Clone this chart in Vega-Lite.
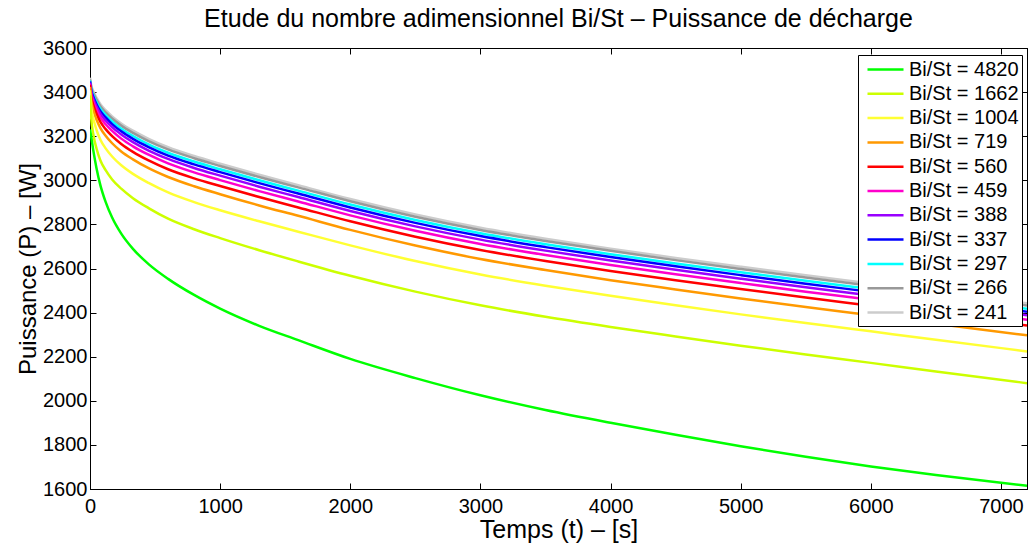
{
  "$schema": "https://vega.github.io/schema/vega-lite/v6.json",
  "width": 937,
  "height": 441,
  "autosize": "none",
  "padding": {"left": 90, "top": 48, "right": 2, "bottom": 59},
  "background": "white",
  "config": {
    "font": "Liberation Sans",
    "view": {"stroke": "black", "strokeWidth": 1}
  },
  "title": {"text": "Etude du nombre adimensionnel Bi/St – Puissance de décharge", "fontSize": 25, "fontWeight": "normal", "color": "black", "offset": 6, "anchor": "middle"},
  "datasets": {
    "curves": [
      {"s":"Bi/St = 241","t":0,"P":3465},{"s":"Bi/St = 241","t":10,"P":3430},{"s":"Bi/St = 241","t":25,"P":3405},{"s":"Bi/St = 241","t":50,"P":3375},{"s":"Bi/St = 241","t":80,"P":3345},{"s":"Bi/St = 241","t":120,"P":3318},{"s":"Bi/St = 241","t":170,"P":3290},{"s":"Bi/St = 241","t":240,"P":3258},{"s":"Bi/St = 241","t":330,"P":3225},{"s":"Bi/St = 241","t":450,"P":3188},{"s":"Bi/St = 241","t":600,"P":3150},{"s":"Bi/St = 241","t":800,"P":3110},{"s":"Bi/St = 241","t":1000,"P":3075},{"s":"Bi/St = 241","t":1300,"P":3025},{"s":"Bi/St = 241","t":1600,"P":2978},{"s":"Bi/St = 241","t":2000,"P":2915},{"s":"Bi/St = 241","t":2500,"P":2845},{"s":"Bi/St = 241","t":3000,"P":2785},{"s":"Bi/St = 241","t":3500,"P":2735},{"s":"Bi/St = 241","t":4000,"P":2690},{"s":"Bi/St = 241","t":4500,"P":2648},{"s":"Bi/St = 241","t":5000,"P":2608},{"s":"Bi/St = 241","t":5500,"P":2569},{"s":"Bi/St = 241","t":6000,"P":2532},{"s":"Bi/St = 241","t":6500,"P":2494},{"s":"Bi/St = 241","t":7200,"P":2442},
      {"s":"Bi/St = 266","t":0,"P":3458},{"s":"Bi/St = 266","t":10,"P":3421},{"s":"Bi/St = 266","t":25,"P":3396},{"s":"Bi/St = 266","t":50,"P":3366},{"s":"Bi/St = 266","t":80,"P":3336},{"s":"Bi/St = 266","t":120,"P":3308},{"s":"Bi/St = 266","t":170,"P":3280},{"s":"Bi/St = 266","t":240,"P":3248},{"s":"Bi/St = 266","t":330,"P":3215},{"s":"Bi/St = 266","t":450,"P":3178},{"s":"Bi/St = 266","t":600,"P":3140},{"s":"Bi/St = 266","t":800,"P":3100},{"s":"Bi/St = 266","t":1000,"P":3065},{"s":"Bi/St = 266","t":1300,"P":3015},{"s":"Bi/St = 266","t":1600,"P":2968},{"s":"Bi/St = 266","t":2000,"P":2905},{"s":"Bi/St = 266","t":2500,"P":2835},{"s":"Bi/St = 266","t":3000,"P":2775},{"s":"Bi/St = 266","t":3500,"P":2725},{"s":"Bi/St = 266","t":4000,"P":2680},{"s":"Bi/St = 266","t":4500,"P":2638},{"s":"Bi/St = 266","t":5000,"P":2598},{"s":"Bi/St = 266","t":5500,"P":2559},{"s":"Bi/St = 266","t":6000,"P":2522},{"s":"Bi/St = 266","t":6500,"P":2484},{"s":"Bi/St = 266","t":7200,"P":2432},
      {"s":"Bi/St = 297","t":0,"P":3453},{"s":"Bi/St = 297","t":10,"P":3414},{"s":"Bi/St = 297","t":25,"P":3387},{"s":"Bi/St = 297","t":50,"P":3355},{"s":"Bi/St = 297","t":80,"P":3324},{"s":"Bi/St = 297","t":120,"P":3296},{"s":"Bi/St = 297","t":170,"P":3267},{"s":"Bi/St = 297","t":240,"P":3234},{"s":"Bi/St = 297","t":330,"P":3201},{"s":"Bi/St = 297","t":450,"P":3163},{"s":"Bi/St = 297","t":600,"P":3125},{"s":"Bi/St = 297","t":800,"P":3085},{"s":"Bi/St = 297","t":1000,"P":3050},{"s":"Bi/St = 297","t":1300,"P":3000},{"s":"Bi/St = 297","t":1600,"P":2953},{"s":"Bi/St = 297","t":2000,"P":2890},{"s":"Bi/St = 297","t":2500,"P":2820},{"s":"Bi/St = 297","t":3000,"P":2760},{"s":"Bi/St = 297","t":3500,"P":2710},{"s":"Bi/St = 297","t":4000,"P":2665},{"s":"Bi/St = 297","t":4500,"P":2623},{"s":"Bi/St = 297","t":5000,"P":2583},{"s":"Bi/St = 297","t":5500,"P":2544},{"s":"Bi/St = 297","t":6000,"P":2507},{"s":"Bi/St = 297","t":6500,"P":2469},{"s":"Bi/St = 297","t":7200,"P":2417},
      {"s":"Bi/St = 337","t":0,"P":3448},{"s":"Bi/St = 337","t":10,"P":3407},{"s":"Bi/St = 337","t":25,"P":3379},{"s":"Bi/St = 337","t":50,"P":3345},{"s":"Bi/St = 337","t":80,"P":3313},{"s":"Bi/St = 337","t":120,"P":3285},{"s":"Bi/St = 337","t":170,"P":3255},{"s":"Bi/St = 337","t":240,"P":3222},{"s":"Bi/St = 337","t":330,"P":3188},{"s":"Bi/St = 337","t":450,"P":3151},{"s":"Bi/St = 337","t":600,"P":3112},{"s":"Bi/St = 337","t":800,"P":3072},{"s":"Bi/St = 337","t":1000,"P":3037},{"s":"Bi/St = 337","t":1300,"P":2987},{"s":"Bi/St = 337","t":1600,"P":2940},{"s":"Bi/St = 337","t":2000,"P":2877},{"s":"Bi/St = 337","t":2500,"P":2807},{"s":"Bi/St = 337","t":3000,"P":2747},{"s":"Bi/St = 337","t":3500,"P":2697},{"s":"Bi/St = 337","t":4000,"P":2652},{"s":"Bi/St = 337","t":4500,"P":2610},{"s":"Bi/St = 337","t":5000,"P":2570},{"s":"Bi/St = 337","t":5500,"P":2531},{"s":"Bi/St = 337","t":6000,"P":2494},{"s":"Bi/St = 337","t":6500,"P":2456},{"s":"Bi/St = 337","t":7200,"P":2404},
      {"s":"Bi/St = 388","t":0,"P":3443},{"s":"Bi/St = 388","t":10,"P":3398},{"s":"Bi/St = 388","t":25,"P":3369},{"s":"Bi/St = 388","t":50,"P":3334},{"s":"Bi/St = 388","t":80,"P":3301},{"s":"Bi/St = 388","t":120,"P":3271},{"s":"Bi/St = 388","t":170,"P":3241},{"s":"Bi/St = 388","t":240,"P":3208},{"s":"Bi/St = 388","t":330,"P":3173},{"s":"Bi/St = 388","t":450,"P":3135},{"s":"Bi/St = 388","t":600,"P":3097},{"s":"Bi/St = 388","t":800,"P":3056},{"s":"Bi/St = 388","t":1000,"P":3021},{"s":"Bi/St = 388","t":1300,"P":2971},{"s":"Bi/St = 388","t":1600,"P":2924},{"s":"Bi/St = 388","t":2000,"P":2861},{"s":"Bi/St = 388","t":2500,"P":2791},{"s":"Bi/St = 388","t":3000,"P":2731},{"s":"Bi/St = 388","t":3500,"P":2681},{"s":"Bi/St = 388","t":4000,"P":2636},{"s":"Bi/St = 388","t":4500,"P":2594},{"s":"Bi/St = 388","t":5000,"P":2554},{"s":"Bi/St = 388","t":5500,"P":2515},{"s":"Bi/St = 388","t":6000,"P":2478},{"s":"Bi/St = 388","t":6500,"P":2440},{"s":"Bi/St = 388","t":7200,"P":2388},
      {"s":"Bi/St = 459","t":0,"P":3438},{"s":"Bi/St = 459","t":10,"P":3389},{"s":"Bi/St = 459","t":25,"P":3357},{"s":"Bi/St = 459","t":50,"P":3320},{"s":"Bi/St = 459","t":80,"P":3285},{"s":"Bi/St = 459","t":120,"P":3254},{"s":"Bi/St = 459","t":170,"P":3224},{"s":"Bi/St = 459","t":240,"P":3189},{"s":"Bi/St = 459","t":330,"P":3154},{"s":"Bi/St = 459","t":450,"P":3116},{"s":"Bi/St = 459","t":600,"P":3077},{"s":"Bi/St = 459","t":800,"P":3036},{"s":"Bi/St = 459","t":1000,"P":3001},{"s":"Bi/St = 459","t":1300,"P":2951},{"s":"Bi/St = 459","t":1600,"P":2904},{"s":"Bi/St = 459","t":2000,"P":2841},{"s":"Bi/St = 459","t":2500,"P":2771},{"s":"Bi/St = 459","t":3000,"P":2711},{"s":"Bi/St = 459","t":3500,"P":2661},{"s":"Bi/St = 459","t":4000,"P":2616},{"s":"Bi/St = 459","t":4500,"P":2574},{"s":"Bi/St = 459","t":5000,"P":2534},{"s":"Bi/St = 459","t":5500,"P":2495},{"s":"Bi/St = 459","t":6000,"P":2458},{"s":"Bi/St = 459","t":6500,"P":2420},{"s":"Bi/St = 459","t":7200,"P":2368},
      {"s":"Bi/St = 560","t":0,"P":3433},{"s":"Bi/St = 560","t":10,"P":3377},{"s":"Bi/St = 560","t":25,"P":3342},{"s":"Bi/St = 560","t":50,"P":3302},{"s":"Bi/St = 560","t":80,"P":3265},{"s":"Bi/St = 560","t":120,"P":3232},{"s":"Bi/St = 560","t":170,"P":3200},{"s":"Bi/St = 560","t":240,"P":3165},{"s":"Bi/St = 560","t":330,"P":3129},{"s":"Bi/St = 560","t":450,"P":3090},{"s":"Bi/St = 560","t":600,"P":3050},{"s":"Bi/St = 560","t":800,"P":3009},{"s":"Bi/St = 560","t":1000,"P":2974},{"s":"Bi/St = 560","t":1300,"P":2924},{"s":"Bi/St = 560","t":1600,"P":2877},{"s":"Bi/St = 560","t":2000,"P":2814},{"s":"Bi/St = 560","t":2500,"P":2744},{"s":"Bi/St = 560","t":3000,"P":2684},{"s":"Bi/St = 560","t":3500,"P":2634},{"s":"Bi/St = 560","t":4000,"P":2589},{"s":"Bi/St = 560","t":4500,"P":2547},{"s":"Bi/St = 560","t":5000,"P":2507},{"s":"Bi/St = 560","t":5500,"P":2468},{"s":"Bi/St = 560","t":6000,"P":2431},{"s":"Bi/St = 560","t":6500,"P":2393},{"s":"Bi/St = 560","t":7200,"P":2341},
      {"s":"Bi/St = 719","t":0,"P":3423},{"s":"Bi/St = 719","t":10,"P":3360},{"s":"Bi/St = 719","t":25,"P":3320},{"s":"Bi/St = 719","t":50,"P":3276},{"s":"Bi/St = 719","t":80,"P":3237},{"s":"Bi/St = 719","t":120,"P":3202},{"s":"Bi/St = 719","t":170,"P":3168},{"s":"Bi/St = 719","t":240,"P":3131},{"s":"Bi/St = 719","t":330,"P":3095},{"s":"Bi/St = 719","t":450,"P":3055},{"s":"Bi/St = 719","t":600,"P":3015},{"s":"Bi/St = 719","t":800,"P":2973},{"s":"Bi/St = 719","t":1000,"P":2937},{"s":"Bi/St = 719","t":1300,"P":2886},{"s":"Bi/St = 719","t":1600,"P":2839},{"s":"Bi/St = 719","t":2000,"P":2775},{"s":"Bi/St = 719","t":2500,"P":2704},{"s":"Bi/St = 719","t":3000,"P":2643},{"s":"Bi/St = 719","t":3500,"P":2593},{"s":"Bi/St = 719","t":4000,"P":2547},{"s":"Bi/St = 719","t":4500,"P":2505},{"s":"Bi/St = 719","t":5000,"P":2464},{"s":"Bi/St = 719","t":5500,"P":2425},{"s":"Bi/St = 719","t":6000,"P":2388},{"s":"Bi/St = 719","t":6500,"P":2349},{"s":"Bi/St = 719","t":7200,"P":2297},
      {"s":"Bi/St = 1004","t":0,"P":3408},{"s":"Bi/St = 1004","t":10,"P":3328},{"s":"Bi/St = 1004","t":25,"P":3281},{"s":"Bi/St = 1004","t":50,"P":3229},{"s":"Bi/St = 1004","t":80,"P":3184},{"s":"Bi/St = 1004","t":120,"P":3145},{"s":"Bi/St = 1004","t":170,"P":3108},{"s":"Bi/St = 1004","t":240,"P":3068},{"s":"Bi/St = 1004","t":330,"P":3029},{"s":"Bi/St = 1004","t":450,"P":2988},{"s":"Bi/St = 1004","t":600,"P":2945},{"s":"Bi/St = 1004","t":800,"P":2901},{"s":"Bi/St = 1004","t":1000,"P":2864},{"s":"Bi/St = 1004","t":1300,"P":2814},{"s":"Bi/St = 1004","t":1600,"P":2767},{"s":"Bi/St = 1004","t":2000,"P":2705},{"s":"Bi/St = 1004","t":2500,"P":2634},{"s":"Bi/St = 1004","t":3000,"P":2573},{"s":"Bi/St = 1004","t":3500,"P":2522},{"s":"Bi/St = 1004","t":4000,"P":2476},{"s":"Bi/St = 1004","t":4500,"P":2433},{"s":"Bi/St = 1004","t":5000,"P":2392},{"s":"Bi/St = 1004","t":5500,"P":2353},{"s":"Bi/St = 1004","t":6000,"P":2315},{"s":"Bi/St = 1004","t":6500,"P":2277},{"s":"Bi/St = 1004","t":7200,"P":2224},
      {"s":"Bi/St = 1662","t":0,"P":3385},{"s":"Bi/St = 1662","t":10,"P":3278},{"s":"Bi/St = 1662","t":25,"P":3210},{"s":"Bi/St = 1662","t":50,"P":3144},{"s":"Bi/St = 1662","t":80,"P":3090},{"s":"Bi/St = 1662","t":120,"P":3046},{"s":"Bi/St = 1662","t":170,"P":3004},{"s":"Bi/St = 1662","t":240,"P":2962},{"s":"Bi/St = 1662","t":330,"P":2919},{"s":"Bi/St = 1662","t":450,"P":2874},{"s":"Bi/St = 1662","t":600,"P":2826},{"s":"Bi/St = 1662","t":800,"P":2778},{"s":"Bi/St = 1662","t":1000,"P":2738},{"s":"Bi/St = 1662","t":1300,"P":2683},{"s":"Bi/St = 1662","t":1600,"P":2632},{"s":"Bi/St = 1662","t":2000,"P":2567},{"s":"Bi/St = 1662","t":2500,"P":2495},{"s":"Bi/St = 1662","t":3000,"P":2433},{"s":"Bi/St = 1662","t":3500,"P":2381},{"s":"Bi/St = 1662","t":4000,"P":2335},{"s":"Bi/St = 1662","t":4500,"P":2292},{"s":"Bi/St = 1662","t":5000,"P":2250},{"s":"Bi/St = 1662","t":5500,"P":2210},{"s":"Bi/St = 1662","t":6000,"P":2172},{"s":"Bi/St = 1662","t":6500,"P":2133},{"s":"Bi/St = 1662","t":7200,"P":2080},
      {"s":"Bi/St = 4820","t":0,"P":3230},{"s":"Bi/St = 4820","t":10,"P":3195},{"s":"Bi/St = 4820","t":25,"P":3137},{"s":"Bi/St = 4820","t":50,"P":3055},{"s":"Bi/St = 4820","t":80,"P":2977},{"s":"Bi/St = 4820","t":120,"P":2902},{"s":"Bi/St = 4820","t":170,"P":2831},{"s":"Bi/St = 4820","t":240,"P":2758},{"s":"Bi/St = 4820","t":330,"P":2689},{"s":"Bi/St = 4820","t":450,"P":2620},{"s":"Bi/St = 4820","t":600,"P":2553},{"s":"Bi/St = 4820","t":800,"P":2480},{"s":"Bi/St = 4820","t":1000,"P":2418},{"s":"Bi/St = 4820","t":1300,"P":2340},{"s":"Bi/St = 4820","t":1600,"P":2275},{"s":"Bi/St = 4820","t":2000,"P":2190},{"s":"Bi/St = 4820","t":2500,"P":2103},{"s":"Bi/St = 4820","t":3000,"P":2025},{"s":"Bi/St = 4820","t":3500,"P":1958},{"s":"Bi/St = 4820","t":4000,"P":1900},{"s":"Bi/St = 4820","t":4500,"P":1846},{"s":"Bi/St = 4820","t":5000,"P":1794},{"s":"Bi/St = 4820","t":5500,"P":1746},{"s":"Bi/St = 4820","t":6000,"P":1702},{"s":"Bi/St = 4820","t":6500,"P":1663},{"s":"Bi/St = 4820","t":7200,"P":1615}
    ]
  },
  "data": {"name": "curves"},
  "layer": [
    {
      "mark": {"type": "line", "strokeWidth": 2.5, "interpolate": "monotone", "clip": true},
      "encoding": {
        "x": {"field": "t", "type": "quantitative", "scale": {"domain": [0, 7200], "nice": false, "zero": false},
          "axis": {"orient": "bottom", "title": "Temps (t) – [s]", "values": [0,1000,2000,3000,4000,5000,6000,7000], "format": "d", "grid": false, "domain": true, "domainColor": "black", "tickColor": "black", "tickSize": -6, "labelPadding": 13, "labelFontSize": 20, "labelColor": "black", "titleFontSize": 25, "titleFontWeight": "normal", "titleColor": "black", "titlePadding": 1, "labelFlush": false}},
        "y": {"field": "P", "type": "quantitative", "scale": {"domain": [1600, 3600], "nice": false, "zero": false},
          "axis": {"orient": "left", "title": "Puissance (P) – [W]", "values": [1600,1800,2000,2200,2400,2600,2800,3000,3200,3400,3600], "format": "d", "grid": false, "domain": true, "domainColor": "black", "tickColor": "black", "tickSize": -6, "labelPadding": 9, "labelFontSize": 20, "labelColor": "black", "titleFontSize": 24, "titleFontWeight": "normal", "titleColor": "black", "titlePadding": 2}},
        "color": {"field": "s", "type": "nominal",
          "scale": {"domain": ["Bi/St = 4820","Bi/St = 1662","Bi/St = 1004","Bi/St = 719","Bi/St = 560","Bi/St = 459","Bi/St = 388","Bi/St = 337","Bi/St = 297","Bi/St = 266","Bi/St = 241"],
                    "range": ["#00ff00","#ccff00","#ffff33","#ff9900","#ff0000","#ff00cc","#9900ff","#0000ff","#00ffff","#999999","#cccccc"]},
          "legend": {"title": null, "orient": "none", "legendX": 768, "legendY": 7, "fillColor": "white", "strokeColor": "black", "padding": 3, "symbolType": "M-0.5,0H3.1", "symbolSize": 400, "symbolStrokeWidth": 2.5, "labelFontSize": 20, "labelColor": "black", "labelOffset": 25, "rowPadding": 2.3, "labelLimit": 250}}
      }
    },
    {
      "mark": {"type": "line", "opacity": 0},
      "encoding": {
        "x": {"field": "t", "type": "quantitative", "axis": {"orient": "top", "title": null, "labels": false, "values": [0,1000,2000,3000,4000,5000,6000,7000], "grid": false, "domainColor": "black", "tickColor": "black", "tickSize": -6}},
        "y": {"field": "P", "type": "quantitative", "axis": {"orient": "right", "title": null, "labels": false, "values": [1600,1800,2000,2200,2400,2600,2800,3000,3200,3400,3600], "grid": false, "domainColor": "black", "tickColor": "black", "tickSize": -6}},
        "detail": {"field": "s"}
      }
    }
  ],
  "resolve": {"axis": {"x": "independent", "y": "independent"}}
}
